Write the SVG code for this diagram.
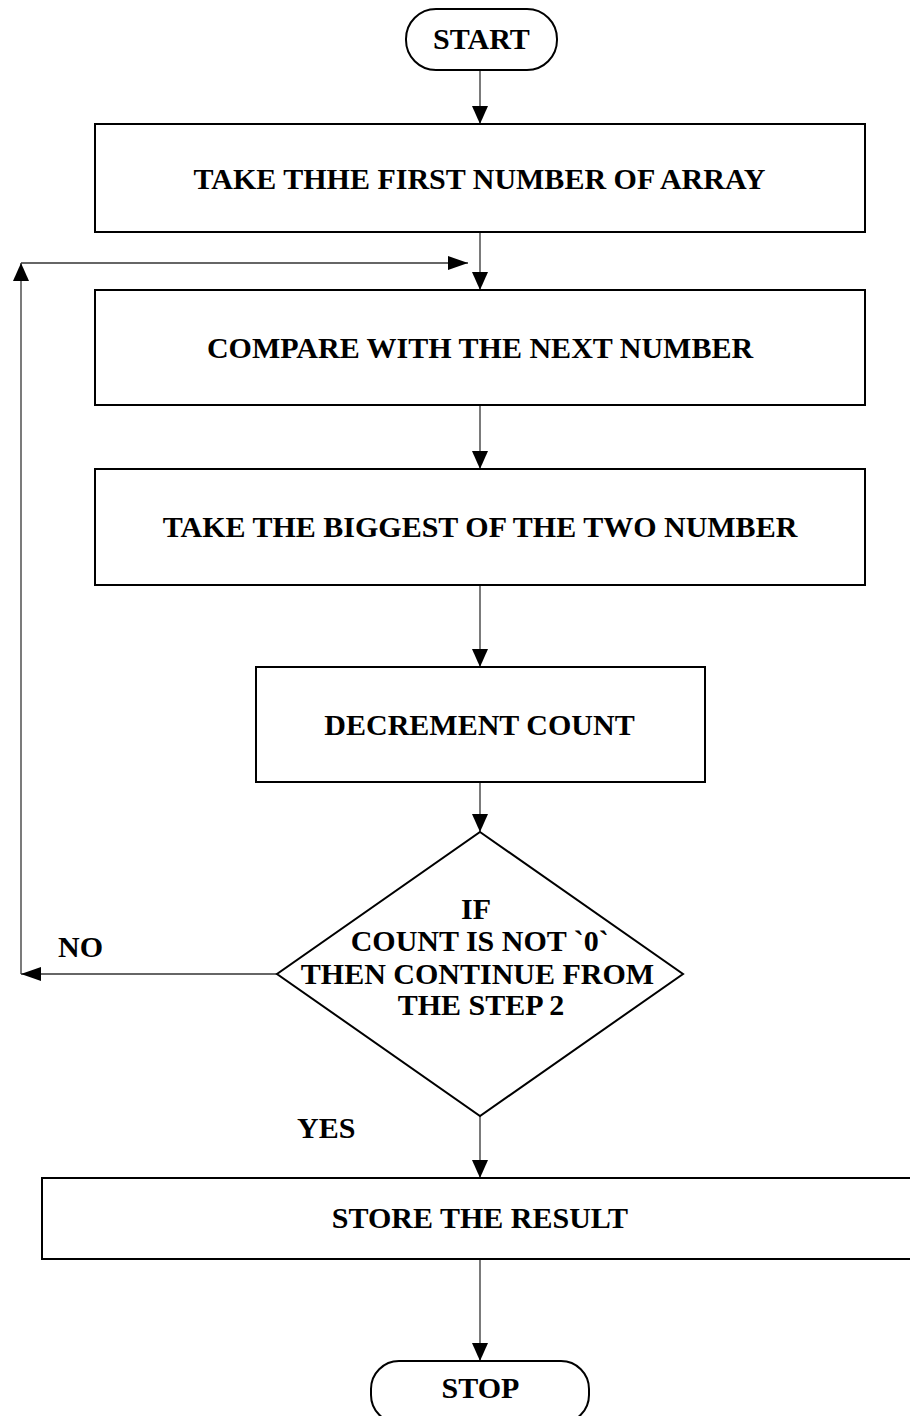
<svg xmlns="http://www.w3.org/2000/svg" width="910" height="1416" viewBox="0 0 910 1416">
<style>
.shape{fill:#fff;stroke:#000;stroke-width:2}
.conn{fill:none;stroke:#333;stroke-width:1.3}
.t{font-family:"Liberation Serif","Times New Roman",serif;font-weight:bold;font-size:30px;fill:#000;text-anchor:middle}
.l{font-family:"Liberation Serif","Times New Roman",serif;font-weight:bold;font-size:30px;fill:#000}
</style>
<defs>
<marker id="av" markerUnits="userSpaceOnUse" viewBox="0 0 18 16" refX="18" refY="8" markerWidth="18" markerHeight="16" orient="auto">
<path d="M0,0 L18,8 L0,16 Z" fill="#000"/>
</marker>
<marker id="ah" markerUnits="userSpaceOnUse" viewBox="0 0 20 14" refX="20" refY="7" markerWidth="20" markerHeight="14" orient="auto">
<path d="M0,0 L20,7 L0,14 Z" fill="#000"/>
</marker>
</defs>
<rect width="910" height="1416" fill="#fff"/>
<g id="connectors">
<path class="conn" d="M480,70 V124" marker-end="url(#av)"/>
<path class="conn" d="M480,232 V290" marker-end="url(#av)"/>
<path class="conn" d="M480,405 V469" marker-end="url(#av)"/>
<path class="conn" d="M480,585 V667" marker-end="url(#av)"/>
<path class="conn" d="M480,782 V832" marker-end="url(#av)"/>
<path class="conn" d="M480,1116 V1178" marker-end="url(#av)"/>
<path class="conn" d="M480,1259 V1361" marker-end="url(#av)"/>
<path class="conn" d="M277,974 H21" marker-end="url(#ah)"/>
<path class="conn" d="M21,974 V263" marker-end="url(#av)"/>
<path class="conn" d="M21,263 H468" marker-end="url(#ah)"/>
<text class="l" x="58" y="957">NO</text>
<text class="l" x="297" y="1138">YES</text>
</g>
<g id="start">
<rect class="shape" x="406" y="9" width="151" height="61" rx="30" ry="30"/>
<text class="t" x="481.5" y="48.5">START</text>
</g>
<g id="step1">
<rect class="shape" x="95" y="124" width="770" height="108"/>
<text class="t" x="479.5" y="189">TAKE THHE FIRST NUMBER OF ARRAY</text>
</g>
<g id="step2">
<rect class="shape" x="95" y="290" width="770" height="115"/>
<text class="t" x="480" y="357.5">COMPARE WITH THE NEXT NUMBER</text>
</g>
<g id="step3">
<rect class="shape" x="95" y="469" width="770" height="116"/>
<text class="t" x="480" y="537">TAKE THE BIGGEST OF THE TWO NUMBER</text>
</g>
<g id="step4">
<rect class="shape" x="256" y="667" width="449" height="115"/>
<text class="t" x="479.5" y="735">DECREMENT COUNT</text>
</g>
<g id="decision">
<polygon class="shape" points="480,832 683,974 480,1116 277,974"/>
<text class="t" x="476" y="919.3">IF</text>
<text class="t" x="479.7" y="950.7">COUNT IS NOT `0`</text>
<text class="t" x="477.5" y="984">THEN CONTINUE FROM</text>
<text class="t" x="481" y="1015">THE STEP 2</text>
</g>
<g id="step5">
<rect class="shape" x="42" y="1178" width="900" height="81"/>
<text class="t" x="480" y="1228.3">STORE THE RESULT</text>
</g>
<g id="stop">
<rect class="shape" x="371" y="1361" width="218" height="62" rx="28" ry="28"/>
<text class="t" x="480.5" y="1398.3">STOP</text>
</g>
</svg>
